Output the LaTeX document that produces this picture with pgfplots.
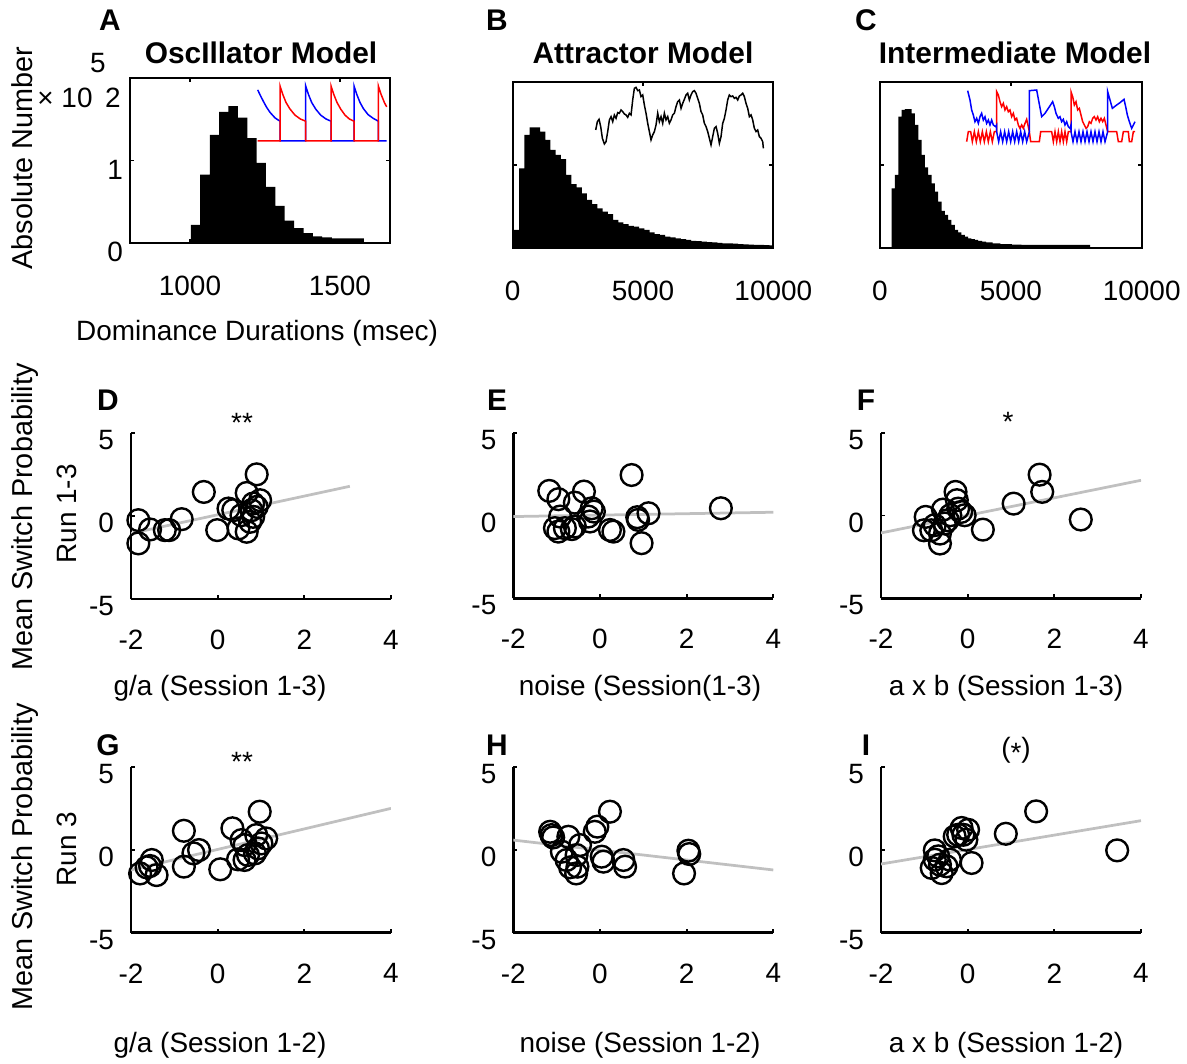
\documentclass[border=0pt]{standalone}
\usepackage{fontspec}
\setmainfont{Liberation Sans}
\setsansfont{Liberation Sans}
\usepackage{pgfplots}
\pgfplotsset{compat=1.18}
\definecolor{fitgray}{RGB}{192,192,192}
\definecolor{mblue}{RGB}{0,0,255}
\definecolor{mred}{RGB}{255,0,0}
\newcommand\lab{\fontsize{15.9}{18}\selectfont}
\newcommand\ylab{\fontsize{16.4}{19}\selectfont}
\newcommand\ttl{\fontsize{17}{20}\selectfont\bfseries}

\pgfplotsset{
  mybase/.style={scale only axis, tick align=inside, line width=0.045cm,
    axis line style={line width=0.045cm}, major tick length=0.08cm,
    tick style={line width=0.035cm, black},
    scaled x ticks=false, scaled y ticks=false,
    ticklabel style={font=\lab}},
  myhist/.style={mybase, ymin=0, ymax=2, ytick={0,1,2},
    xticklabel style={yshift=-0.52cm}},
  myscat/.style={mybase, width=5.2cm, height=3.32cm,
    xmin=-2, xmax=4, ymin=-5, ymax=5,
    axis x line*=bottom, axis y line*=left,
    axis line style={-, line width=0.05cm},
    xtick={-2,0,2,4}, xticklabels={-2,0,2,4},
    ytick={-5,0,5}, yticklabels={-5,0,5},
    xticklabel style={yshift=-0.48cm},
    yticklabel style={xshift=-0.2cm, yshift=-0.14cm}},
  mycirc/.style={only marks, mark=o, mark size=6.2pt, black,
    line width=0.048cm, mark options={line width=0.048cm, black}},
  myfit/.style={fitgray, line width=0.055cm, no marks},
  myinset/.style={scale only axis, hide axis, clip=false},
}

\begin{document}
\begin{tikzpicture}
\path[use as bounding box] (0,0) rectangle (23.74,21.26);

% ---------- A: oscillator histogram
\begin{scope}[shift={(2.60,16.40)}]
\begin{axis}[myhist, width=5.2cm, height=3.3cm,
  xmin=800, xmax=1667, xtick={1000,1500}, xticklabels={1000,1500},
  yticklabels={0,1,{}}, yticklabel style={yshift=-0.18cm}]
\addplot[fill=black, draw=none, const plot] coordinates {
  (1003,0.22)(1034,0.83)(1066,1.31)(1097,1.59)(1128,1.66)(1160,1.52)
  (1191,1.27)(1222,0.97)(1253,0.68)(1285,0.45)(1316,0.27)(1347,0.18)
  (1379,0.12)(1410,0.08)(1441,0.068)(1473,0.057)(1504,0.057)(1535,0.055)
  (1566,0.055)(1580,0.055)} \closedcycle;
\end{axis}
\end{scope}
\begin{scope}[shift={(5.154,18.44)}]
\begin{axis}[myinset, width=2.58cm, height=1.10cm,
  xmin=383, xmax=770, ymin=0, ymax=1]
\addplot[mblue, line width=0.03cm] coordinates {
  (383,0.93)(390,0.84)(400,0.72)(410,0.61)(420,0.52)(435,0.42)(450,0.36)
  (450,0)(527,0)(527,1)(535,0.85)(545,0.70)(557,0.58)(572,0.47)(588,0.40)
  (603,0.36)(603,0)(672,0)(672,1)(680,0.85)(690,0.70)(700,0.59)(714,0.48)
  (730,0.41)(745,0.36)(745,0)(770,0)};
\addplot[mred, line width=0.03cm] coordinates {
  (383,0)(450,0)(450,1)(458,0.85)(468,0.70)(480,0.58)(495,0.47)(511,0.40)
  (527,0.36)(527,0)(603,0)(603,1)(611,0.85)(621,0.70)(632,0.58)(645,0.47)
  (658,0.40)(672,0.36)(672,0)(745,0)(745,1)(753,0.85)(763,0.70)(770,0.62)};
\end{axis}
\end{scope}

% ---------- B: attractor histogram
\begin{scope}[shift={(10.254,16.294)}]
\begin{axis}[myhist, width=5.212cm, height=3.333cm,
  xmin=0, xmax=10000, xtick={0,5000,10000}, xticklabels={0,5000,10000},
  yticklabels={}]
\addplot[fill=black, draw=none, const plot] coordinates {
  (50,0.22)(250,0.96)(450,1.36)(650,1.45)(850,1.45)(1050,1.40)(1250,1.30)
  (1450,1.18)(1650,1.12)(1850,1.07)(2050,0.88)(2250,0.77)(2450,0.73)
  (2650,0.66)(2850,0.58)(3050,0.53)(3250,0.48)(3450,0.44)(3650,0.41)
  (3850,0.34)(4050,0.31)(4250,0.29)(4450,0.27)(4650,0.26)(4850,0.24)
  (5050,0.22)(5250,0.19)(5450,0.17)(5650,0.16)(5850,0.14)(6050,0.13)
  (6250,0.12)(6450,0.11)(6650,0.10)(6850,0.09)(7050,0.085)(7250,0.08)
  (7450,0.075)(7650,0.07)(7850,0.065)(8050,0.06)(8250,0.058)(8450,0.055)
  (8650,0.05)(8850,0.048)(9050,0.045)(9250,0.042)(9450,0.04)(9650,0.038)
  (9850,0.035)(9980,0.035)} \closedcycle;
\end{axis}
\end{scope}
\begin{scope}[shift={(11.914,18.294)}]
\begin{axis}[myinset, width=3.353cm, height=1.233cm,
  xmin=287, xmax=790, ymin=80, ymax=265, y dir=reverse]
\addplot[black, line width=0.03cm] coordinates {
  (287,210)(292,185)(297,178)(302,200)(307,235)(313,252)(318,245)(323,215)
  (328,180)(333,170)(338,185)(343,165)(348,175)(353,158)(358,160)(363,150)
  (368,155)(373,162)(378,165)(383,172)(388,160)(393,165)(398,120)(403,85)
  (408,82)(413,92)(418,90)(423,110)(428,105)(433,135)(438,160)(443,190)
  (448,215)(453,240)(458,225)(463,215)(468,195)(473,160)(478,185)(483,170)
  (488,190)(493,160)(498,180)(503,170)(508,190)(513,180)(518,165)(523,160)
  (528,140)(533,125)(538,120)(543,145)(548,130)(553,118)(558,105)(563,100)
  (568,120)(573,105)(578,95)(583,92)(588,100)(593,115)(598,130)(603,155)
  (608,165)(613,190)(618,200)(623,215)(628,235)(633,255)(638,230)(643,205)
  (648,200)(653,220)(658,250)(663,230)(668,190)(673,175)(678,150)(683,120)
  (688,105)(693,110)(698,108)(703,115)(708,112)(713,120)(718,108)(723,105)
  (728,100)(733,110)(738,130)(743,145)(748,170)(753,165)(758,180)(763,205)
  (768,215)(773,210)(778,230)(783,235)(788,245)(790,265)};
\end{axis}
\end{scope}

% ---------- C: intermediate histogram
\begin{scope}[shift={(17.60,16.294)}]
\begin{axis}[myhist, width=5.234cm, height=3.333cm,
  xmin=0, xmax=10000, xtick={0,5000,10000}, xticklabels={0,5000,10000},
  yticklabels={}]
\addplot[fill=black, draw=none, const plot] coordinates {
  (445,0.72)(572,0.88)(699,1.58)(826,1.66)(953,1.67)(1080,1.67)(1207,1.62)
  (1334,1.48)(1461,1.30)(1588,1.12)(1715,0.97)(1842,0.88)(1969,0.78)
  (2096,0.68)(2223,0.56)(2350,0.45)(2477,0.40)(2604,0.34)(2731,0.28)
  (2858,0.22)(2985,0.19)(3112,0.16)(3239,0.14)(3366,0.12)(3493,0.11)
  (3620,0.10)(3750,0.09)(3900,0.08)(4050,0.07)(4300,0.06)(4600,0.05)
  (5000,0.045)(5400,0.04)(8026,0.04)} \closedcycle;
\end{axis}
\end{scope}
\begin{scope}[shift={(19.333,18.413)}]
\begin{axis}[myinset, width=3.367cm, height=1.047cm,
  xmin=290, xmax=795, ymin=90, ymax=247, y dir=reverse]
\addplot[mred, line width=0.03cm] coordinates {
  (290,245)(295,215)(302,215)(307,245)(313,215)(319,245)(325,215)(331,245)
  (337,215)(343,245)(349,215)(355,245)(361,215)(367,245)(373,215)(380,215)
  (380,95)(385,105)(390,125)(395,140)(400,130)(405,150)(410,140)(415,155)
  (420,150)(425,170)(430,160)(435,180)(440,175)(445,195)(450,205)(455,195)
  (460,205)(465,190)(470,178)(475,200)(478,215)(482,245)(508,245)(512,215)
  (545,215)(550,245)(555,215)(560,245)(565,215)(570,245)(575,215)(580,245)
  (585,215)(590,245)(595,215)(603,215)(603,95)(608,110)(613,135)(618,125)
  (623,150)(628,145)(633,165)(638,185)(643,195)(648,205)(653,200)(658,185)
  (663,190)(668,175)(673,170)(678,180)(683,170)(688,185)(693,175)(698,185)
  (703,175)(708,195)(713,215)(740,215)(745,245)(755,245)(760,215)(775,215)
  (778,245)(785,245)(790,215)(795,215)};
\addplot[mblue, line width=0.03cm] coordinates {
  (293,92)(300,120)(305,150)(310,165)(315,185)(320,175)(325,190)(330,170)
  (335,160)(340,180)(345,170)(350,190)(355,180)(360,195)(365,180)(370,195)
  (377,200)(380,195)(380,215)(386,245)(392,215)(398,245)(404,215)(410,245)
  (416,215)(422,245)(428,215)(434,245)(440,215)(446,245)(452,215)(458,245)
  (464,215)(470,245)(478,215)(478,92)(500,90)
  (515,170)(525,160)(535,145)(548,125)(553,140)(558,160)(565,175)(570,170)
  (575,185)(580,178)(585,195)(590,185)(595,200)(600,205)(603,195)(603,215)
  (609,245)(615,215)(621,245)(627,215)(633,245)(639,215)(645,245)(651,215)
  (657,245)(663,215)(669,245)(675,215)(681,245)(687,215)(693,245)(699,215)
  (705,245)(713,215)(713,95)(720,120)
  (727,145)(740,135)(750,128)(762,118)(767,140)(772,165)(778,185)(785,205)
  (790,195)(795,185)};
\end{axis}
\end{scope}

% ---------- D
\begin{scope}[shift={(2.62,9.28)}]
\begin{axis}[myscat]
\addplot[mycirc] coordinates {
  (-1.83,-0.25)(-1.83,-1.65)(-1.56,-0.81)(-1.22,-0.85)(-1.12,-0.85)
  (-0.83,-0.19)(-0.32,1.45)(-0.01,-0.85)(0.36,0.35)(0.48,-0.75)
  (0.67,-0.95)(0.67,1.39)(0.90,2.51)(0.82,0.75)(0.98,0.95)(0.78,0.35)
  (0.82,-0.05)(0.75,-0.35)(0.55,0.05)(0.90,0.55)(0.25,0.45)};
\addplot[myfit] coordinates {(-2,-1.05)(3.05,1.79)};
\end{axis}
\end{scope}

% ---------- E
\begin{scope}[shift={(10.266,9.294)}]
\begin{axis}[myscat, height=3.31cm]
\addplot[mycirc] coordinates {
  (-1.17,1.49)(-0.96,0.99)(-0.37,1.45)(-0.58,0.78)(-0.19,0.44)(-0.14,0.24)
  (-0.23,-0.36)(-1.04,-0.76)(-0.96,-0.97)(-0.81,-0.76)(-0.65,-0.82)
  (-0.92,-0.06)(0.23,-0.87)(0.31,-0.97)(0.73,2.45)(0.86,-0.10)(0.88,-0.26)
  (1.12,0.14)(0.96,-1.67)(2.79,0.44)(-0.58,-0.66)(-0.27,-0.06)};
\addplot[myfit] coordinates {(-2,-0.06)(4,0.20)};
\end{axis}
\end{scope}

% ---------- F
\begin{scope}[shift={(17.62,9.294)}]
\begin{axis}[myscat, height=3.31cm]
\addplot[mycirc] coordinates {
  (-0.97,-0.08)(-1.01,-0.89)(-0.84,-0.89)(-0.64,-1.69)(-0.64,-1.09)
  (-0.53,-0.48)(-0.57,0.36)(-0.40,0.02)(-0.28,1.43)(-0.25,0.93)(-0.22,0.42)
  (-0.07,0.02)(-0.15,0.22)(0.35,-0.85)(1.06,0.72)(1.66,2.47)(1.72,1.43)
  (2.61,-0.24)(-0.76,-0.58)(-0.46,-0.28)};
\addplot[myfit] coordinates {(-2,-1.05)(4,2.13)};
\end{axis}
\end{scope}

% ---------- G
\begin{scope}[shift={(2.62,2.606)}]
\begin{axis}[myscat]
\addplot[mycirc] coordinates {
  (-1.79,-1.43)(-1.64,-1.06)(-1.52,-0.62)(-1.56,-0.98)(-1.41,-1.53)
  (-0.78,1.14)(-0.78,-1.02)(-0.56,-0.22)(-0.43,-0.02)(0.06,-1.18)
  (0.34,1.29)(0.47,-0.58)(0.62,-0.62)(0.70,-0.32)(0.62,0.28)(0.86,-0.22)
  (0.97,2.29)(0.89,0.88)(1.12,0.68)(1.01,0.38)(0.55,0.58)(0.93,0.08)};
\addplot[myfit] coordinates {(-2,-1.22)(4,2.49)};
\end{axis}
\end{scope}

% ---------- H
\begin{scope}[shift={(10.266,2.606)}]
\begin{axis}[myscat]
\addplot[mycirc] coordinates {
  (-1.12,0.88)(-1.15,1.08)(-1.08,0.74)(-0.88,-0.12)(-0.73,0.78)
  (-0.69,-1.06)(-0.55,-1.43)(-0.52,-1.02)(-0.46,0.28)(-0.54,-0.32)
  (-0.12,1.08)(-0.06,1.39)(0.23,2.29)(0.08,-0.72)(0.04,-0.42)(0.54,-0.62)
  (0.58,-1.02)(2.04,-0.06)(2.06,-0.26)(1.94,-1.43)(-0.77,-0.62)};
\addplot[myfit] coordinates {(-2,0.58)(4,-1.22)};
\end{axis}
\end{scope}

% ---------- I
\begin{scope}[shift={(17.62,2.606)}]
\begin{axis}[myscat]
\addplot[mycirc] coordinates {
  (-0.76,-0.04)(-0.83,-1.10)(-0.60,-1.41)(-0.68,-0.40)(-0.49,-1.00)
  (-0.64,-0.90)(-0.14,1.31)(0.01,1.20)(-0.30,0.80)(-0.22,0.90)(-0.03,0.60)
  (-0.10,0.90)(0.09,-0.80)(0.88,0.96)(1.58,2.31)(3.45,-0.04)(-0.41,-0.60)
  (-0.76,-0.60)};
\addplot[myfit] coordinates {(-2,-0.86)(4,1.75)};
\end{axis}
\end{scope}

% ---------- text
\node[font=\ttl] at (2.20,20.86) {A};
\node[font=\ttl] at (9.94,20.86) {B};
\node[font=\ttl] at (17.32,20.86) {C};
\node[font=\ttl] at (5.22,20.20) {OscIllator Model};
\node[font=\ttl] at (12.86,20.20) {Attractor Model};
\node[font=\ttl] at (20.30,20.20) {Intermediate Model};
\node[font=\ylab, rotate=90] at (0.44,18.10) {Absolute Number};
\node[font=\lab] at (1.30,19.30) {× 10};
\node[font=\lab] at (2.26,19.30) {2};
\node[font=\lab] at (1.96,20.00) {5};
\node[font=\lab] at (5.14,14.60) {Dominance Durations (msec)};

\node[font=\ttl] at (2.16,13.26) {D};
\node[font=\ttl] at (9.94,13.26) {E};
\node[font=\ttl] at (17.32,13.26) {F};
\node[font=\lab] at (4.84,12.80) {**};
\node[font=\lab] at (20.16,12.82) {*};
\node[font=\ylab, rotate=90] at (0.50,10.92) {Mean Switch Probability};
\node[font=\lab, rotate=90] at (1.34,10.98) {Run 1-3};
\node[font=\lab] at (4.40,7.50) {g/a (Session 1-3)};
\node[font=\lab] at (12.80,7.50) {noise (Session(1-3)};
\node[font=\lab] at (20.12,7.50) {a x b (Session 1-3)};

\node[font=\ttl] at (2.16,6.36) {G};
\node[font=\ttl] at (9.94,6.36) {H};
\node[font=\ttl] at (17.32,6.36) {I};
\node[font=\lab] at (4.84,6.02) {**};
\node[font=\lab] at (20.32,6.26) {(\raisebox{-0.35ex}{*})};
\node[font=\ylab, rotate=90] at (0.50,4.12) {Mean Switch Probability};
\node[font=\lab, rotate=90] at (1.34,4.28) {Run 3};
\node[font=\lab] at (4.40,0.36) {g/a (Session 1-2)};
\node[font=\lab] at (12.80,0.36) {noise (Session 1-2)};
\node[font=\lab] at (20.12,0.36) {a x b (Session 1-2)};
\end{tikzpicture}
\end{document}
